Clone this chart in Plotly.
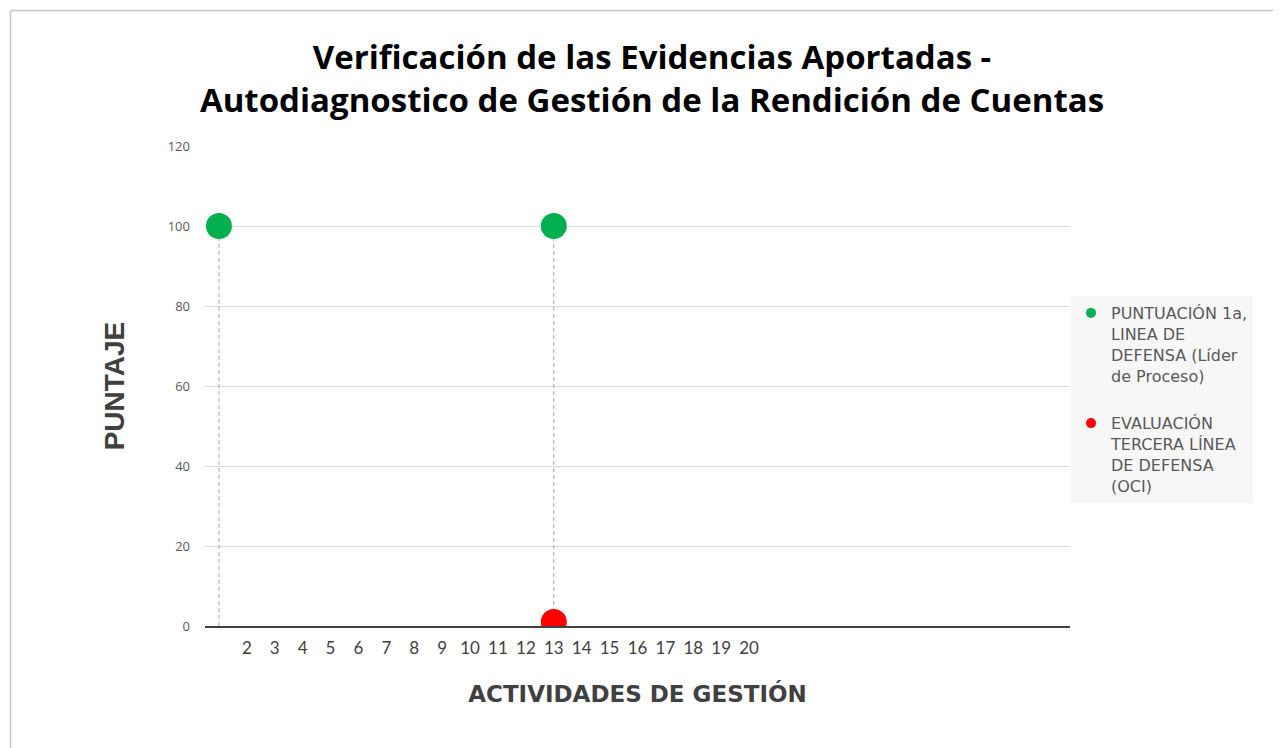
import plotly.graph_objects as go

categories = list(range(1, 32))
tick_labels = [""] + [str(i) for i in range(2, 21)] + [""] * 11
puntuacion_1a = [100 if c in (1, 13) else None for c in categories]
evaluacion_oci = [1 if c == 13 else None for c in categories]

name_1a = "PUNTUACIÓN 1a,<br>LINEA DE<br>DEFENSA (Líder<br>de Proceso)"
name_oci = "EVALUACIÓN<br>TERCERA LÍNEA<br>DE DEFENSA<br>(OCI)"
green = "#00b050"
red = "#ff0000"

# drop lines from first series points down to the axis
drop_x, drop_y = [], []
for c, v in zip(categories, puntuacion_1a):
    if v is not None:
        drop_x += [c, c, None]
        drop_y += [0, v, None]

fig = go.Figure()
fig.add_trace(go.Scatter(x=drop_x, y=drop_y, mode="lines",
                         line=dict(color="#a6a6a6", width=1, dash="4px,3px"),
                         showlegend=False, hoverinfo="skip"))
fig.add_trace(go.Scatter(x=categories, y=puntuacion_1a, mode="markers",
                         marker=dict(color=green, size=26), showlegend=False))
fig.add_trace(go.Scatter(x=categories, y=evaluacion_oci, mode="markers",
                         marker=dict(color=red, size=26), showlegend=False))
# legend entries
fig.add_trace(go.Scatter(x=[None], y=[None], mode="markers", name=name_1a,
                         marker=dict(color=green, size=10), legendgroup="a"))
fig.add_trace(go.Scatter(x=[None], y=[None], mode="markers", name=name_oci,
                         marker=dict(color=red, size=10), legendgroup="b"))

OFF = 8  # page body margin
W, H = 1281 - OFF, 748 - OFF
L, T = 205 - OFF, 146 - OFF
pw, ph = 865, 480
R, B = W - L - pw, H - T - ph

def px(x):  # reference pixel -> paper x
    return (x - OFF - L) / pw

def py(y):  # reference pixel -> paper y
    return (T + ph - (y - OFF)) / ph

fig.update_layout(
    width=W, height=H,
    margin=dict(l=L, r=R, t=T, b=B),
    paper_bgcolor="white", plot_bgcolor="white",
    title=dict(
        text="Verificación de las Evidencias Aportadas -<br>Autodiagnostico de Gestión de la Rendición de Cuentas",
        x=(652 - OFF) / W, xanchor="center", y=1 - (69 - OFF) / H, yanchor="middle",
        xref="container", yref="container",
        font=dict(family="Open Sans", size=33, color="#000000", weight="bold"),
    ),
    xaxis=dict(
        range=[0.5, 31.5], tickmode="array", tickvals=categories, ticktext=tick_labels,
        showgrid=False, zeroline=False, showline=True, linecolor="#404040", linewidth=2,
        ticks="", ticklabelstandoff=6,
        tickfont=dict(family="Lato", size=17, color="#404040"),
        title=dict(text="ACTIVIDADES DE GESTIÓN", standoff=28,
                   font=dict(family="DejaVu Sans", size=23, color="#404040", weight="bold")),
    ),
    yaxis=dict(
        range=[0, 120], tickvals=[0, 20, 40, 60, 80, 100, 120],
        showgrid=True, gridcolor="#d9d9d9", gridwidth=1, zeroline=False, showline=False,
        ticks="", ticklabelstandoff=14,
        tickfont=dict(family="Open Sans", size=13, color="#595959"),
        title=dict(text="PUNTAJE", standoff=34,
                   font=dict(family="Liberation Sans", size=28, color="#404040", weight="bold")),
    ),
    legend=dict(
        x=px(1071), y=py(296), xanchor="left", yanchor="top",
        bgcolor="#f7f7f7", borderwidth=0,
        font=dict(family="DejaVu Sans", size=16, color="#595959"),
        traceorder="grouped", tracegroupgap=24, valign="top",
        itemwidth=30,
    ),
    shapes=[
        dict(type="line", xref="paper", yref="paper", x0=px(10.5), x1=px(10.5),
             y0=py(10.5), y1=py(770), line=dict(color="#c8c8c8", width=1.5)),
        dict(type="line", xref="paper", yref="paper", x0=px(10.5), x1=px(1300),
             y0=py(10.5), y1=py(10.5), line=dict(color="#c8c8c8", width=1.5)),
    ],
)

fig.write_html("out.html")
